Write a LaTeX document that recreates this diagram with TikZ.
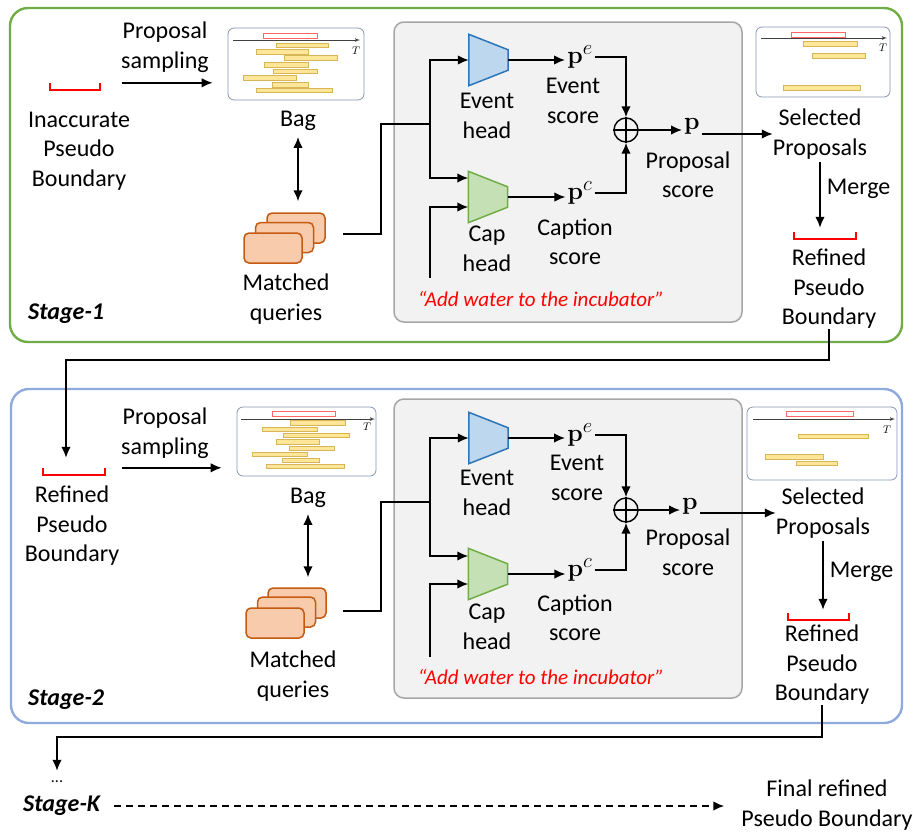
\documentclass[tikz,border=0pt]{standalone}
\usepackage[no-math]{fontspec}
\setmainfont{Carlito}
\usetikzlibrary{shapes,arrows,arrows.meta,positioning,calc}

\definecolor{stgreen}{HTML}{70AD47}
\definecolor{stblue}{HTML}{8FAADC}
\definecolor{headblue}{HTML}{BDD7EE}
\definecolor{headline}{HTML}{2E75B6}
\definecolor{headgreen}{HTML}{C5E0B4}
\definecolor{qfill}{HTML}{F8CBAD}
\definecolor{qline}{HTML}{C55A11}
\definecolor{barfill}{HTML}{FFE699}
\definecolor{barline}{HTML}{D6B656}
\definecolor{bagline}{HTML}{8497B0}
\definecolor{panelfill}{HTML}{F2F2F2}
\definecolor{panelline}{HTML}{A6A6A6}

% trapezoid of a head, drawn on its (invisible) node
\newcommand{\headshape}[2]{%
    \draw[#2, line width=1.5pt] (#1.north west) -- ([yshift=-15.5pt]#1.north east)
        -- ([yshift=15.5pt]#1.south east) -- (#1.south west) -- cycle;}

\begin{document}
\fontsize{24}{29.5}\selectfont
\begin{tikzpicture}[
    x=1pt, y=-1pt,
    txt/.style={align=center, inner sep=0pt},
    stage/.style={draw, line width=2.4pt, rounded corners=18pt},
    stagelbl/.style={font=\bfseries\itshape, anchor=west, inner sep=0pt},
    panel/.style={draw=panelline, fill=panelfill, line width=1.5pt, rounded corners=10pt, inner sep=0pt},
    bagbox/.style={draw=bagline, fill=white, line width=0.8pt, rounded corners=6pt, inner sep=0pt},
    bar/.style={draw=barline, fill=barfill, line width=0.8pt},
    gt/.style={draw=red!60, line width=0.8pt},
    axis/.style={draw=black!75, -latex', line width=0.8pt},
    tsym/.style={font=\fontsize{11}{11}\selectfont, inner sep=0pt},
    query/.style={draw=qline, fill=qfill, line width=1.5pt, rounded corners=5pt,
        minimum width=58pt, minimum height=30pt, inner sep=0pt},
    head/.style={minimum width=39pt, minimum height=51pt, inner sep=0pt},
    brack/.style={minimum height=7pt, inner sep=0pt},
    sum/.style={circle, draw, line width=1.4pt, minimum size=24pt, inner sep=0pt},
    score/.style={inner sep=2pt, font=\fontsize{30}{30}\selectfont},
    quote/.style={text=red, font=\itshape\fontsize{21}{21}\selectfont, inner sep=0pt},
    line/.style={draw, -{Latex[length=11pt,width=9.5pt]}, line width=1.6pt},
    plain/.style={draw, line width=1.6pt},
    dbl/.style={draw, {Latex[length=11pt,width=9.5pt]}-{Latex[length=11pt,width=9.5pt]}, line width=1.6pt}
]
    \useasboundingbox (0,0) rectangle (913,836);

    % Stage frames
    \draw[stage, draw=stgreen] (10,8) rectangle (902,342);
    \draw[stage, draw=stblue] (11,389) rectangle (902,723);

    % ---------------- Stage-1 ----------------
    \node[stagelbl] (st1) at (28,314) {Stage-1};

    % Inaccurate boundary and sampling
    \node[brack, minimum width=50pt] (bnd1) at (75,86.5) {};
    \draw[red, line width=1.5pt] (bnd1.north west) |- (bnd1.south east) -- (bnd1.north east);
    \node[txt] (inlbl1) at (79,151) {Inaccurate\\Pseudo\\Boundary};
    \node[txt] (samp1) at (165,47) {Proposal\\sampling};

    % Bag
    \node[bagbox, minimum width=136pt, minimum height=72pt] (bag1) at (296,64) {};
    \draw[gt] (263,33) rectangle (317,38);
    \draw[axis] (233,40) -- (360,40);
    \node[tsym] (tax1) at (356,51) {$T$};
    \draw[bar] (276,43) rectangle (328,47) (256,49) rectangle (308,54) (284,55) rectangle (337,60)
        (264,62) rectangle (308,67) (273,69) rectangle (317,73) (243,75) rectangle (296,80)
        (272,82) rectangle (308,87) (256,88) rectangle (332,92);
    \node[txt] (baglbl1) at (298,121) {Bag};

    % Matched queries
    \node[query] (mqb1) at (296,228) {};
    \node[query] (mqm1) at (284.5,237.5) {};
    \node[query] (mq1) at (273,248) {};
    \node[txt] (mqlbl1) at (286,299) {Matched\\queries};

    % Heads
    \node[panel, minimum width=348pt, minimum height=300pt] (core1) at (568,172) {};
    \node[head] (evh1) at (488.5,60) {};
    \headshape{evh1}{draw=headline, fill=headblue}
    \node[head] (cph1) at (488,197) {};
    \headshape{cph1}{draw=stgreen, fill=headgreen}
    \node[txt] (evlbl1) at (487,116) {Event\\head};
    \node[txt] (cplbl1) at (487,249) {Cap\\head};
    \node[score] (pe1) at (580,57) {$\mathbf{p}^e$};
    \node[txt] (pelbl1) at (573,101) {Event\\score};
    \node[score] (pc1) at (580,193) {$\mathbf{p}^c$};
    \node[txt] (pclbl1) at (575,242) {Caption\\score};
    \node[sum] (add1) at (626,130) {};
    \draw[line width=1.4pt] (add1.north) -- (add1.south) (add1.west) -- (add1.east);
    \node[score] (p1) at (692,126) {$\mathbf{p}$};
    \node[txt] (plbl1) at (688,175) {Proposal\\score};
    \node[quote] (qry1) at (541,299) {“Add water to the incubator”};
    \coordinate (q1) at (343,234);
    \coordinate (split1) at (430,124);
    \coordinate (tq1) at (430,278);

    % Selected proposals
    \node[bagbox, minimum width=134pt, minimum height=70pt] (sel1) at (823,62) {};
    \draw[gt] (791,32) rectangle (845,37);
    \draw[axis] (761,38) -- (887,38);
    \node[tsym] (tsel1) at (883,48) {$T$};
    \draw[bar] (803,41) rectangle (857,46) (812,53) rectangle (865,58) (783,85) rectangle (860,90);
    \node[txt] (sellbl1) at (820,134) {Selected\\Proposals};
    \node[brack, minimum width=62pt] (rbnd1) at (825,235.5) {};
    \draw[red, line width=1.5pt] (rbnd1.north west) |- (rbnd1.south east) -- (rbnd1.north east);
    \node[txt] (rlbl1) at (829,289) {Refined\\Pseudo\\Boundary};

    % Edges
    \path[line] ([xshift=22pt]bnd1.north east) -- ([xshift=-15pt]bag1.west |- bnd1.north east);
    \path[dbl] ([yshift=-6pt]baglbl1.south) -- ([yshift=11pt]baglbl1.south |- mqb1.north);
    \path[plain] (q1) -- ++(38,0) |- (split1);
    \path[line] (split1) |- (evh1.west);
    \path[line] (split1) |- ([yshift=19pt]cph1.west);
    \path[line] (tq1) |- ([yshift=-10pt]cph1.west);
    \path[line] (evh1.east) -- (evh1.east -| pe1.west);
    \path[line] (cph1.east) -- (cph1.east -| pc1.west);
    \path[line] (pe1.east) -| (add1.north);
    \path[line] (pc1.east) -| (add1.south);
    \path[line] (add1.east) -- (add1.east -| p1.west);
    \path[line] (sellbl1.west -| p1.east) -- (sellbl1.west);
    \path[line] ([yshift=-3pt]sellbl1.south) -- node[pos=0.4, right=6pt, inner sep=0pt] {Merge}
        ([yshift=4pt]sellbl1.south |- rbnd1.north);

    % ---------------- Stage-2 ----------------
    \node[stagelbl] (st2) at (28,700) {Stage-2};

    % Refined boundary and sampling
    \node[brack, minimum width=62pt] (bnd2) at (74,471.5) {};
    \draw[red, line width=1.5pt] (bnd2.north west) |- (bnd2.south east) -- (bnd2.north east);
    \node[txt] (inlbl2) at (72,526) {Refined\\Pseudo\\Boundary};
    \node[txt] (samp2) at (165,433) {Proposal\\sampling};

    % Bag
    \node[bagbox, minimum width=139pt, minimum height=69pt] (bag2) at (306.5,441.5) {};
    \draw[gt] (272,411) rectangle (335,416);
    \draw[axis] (241,419) -- (375,419);
    \node[tsym] (tax2) at (367,427) {$T$};
    \draw[bar] (290,420) rectangle (345,425) (262,427) rectangle (317,431) (283,433) rectangle (349,437)
        (276,439) rectangle (319,444) (289,446) rectangle (334,450) (252,452) rectangle (307,456)
        (282,458) rectangle (319,462) (266,464) rectangle (344,468);
    \node[txt] (baglbl2) at (308,498) {Bag};

    % Matched queries
    \node[query] (mqb2) at (297,603) {};
    \node[query] (mqm2) at (286.5,612) {};
    \node[query] (mq2) at (275,623) {};
    \node[txt] (mqlbl2) at (293,676) {Matched\\queries};

    % Heads
    \node[panel, minimum width=348pt, minimum height=299pt] (core2) at (568,548.5) {};
    \node[head] (evh2) at (488.5,438) {};
    \headshape{evh2}{draw=headline, fill=headblue}
    \node[head] (cph2) at (488,574) {};
    \headshape{cph2}{draw=stgreen, fill=headgreen}
    \node[txt] (evlbl2) at (487,493) {Event\\head};
    \node[txt] (cplbl2) at (487,627) {Cap\\head};
    \node[score] (pe2) at (580,435) {$\mathbf{p}^e$};
    \node[txt] (pelbl2) at (577,478) {Event\\score};
    \node[score] (pc2) at (580,570) {$\mathbf{p}^c$};
    \node[txt] (pclbl2) at (575,618) {Caption\\score};
    \node[sum] (add2) at (626,510) {};
    \draw[line width=1.4pt] (add2.north) -- (add2.south) (add2.west) -- (add2.east);
    \node[score] (p2) at (690,506) {$\mathbf{p}$};
    \node[txt] (plbl2) at (688,552) {Proposal\\score};
    \node[quote] (qry2) at (541,677) {“Add water to the incubator”};
    \coordinate (q2) at (343,611);
    \coordinate (split2) at (430,502);
    \coordinate (tq2) at (430,657);

    % Selected proposals
    \node[bagbox, minimum width=150pt, minimum height=73pt] (sel2) at (822,443.5) {};
    \draw[gt] (786,411) rectangle (853,416);
    \draw[axis] (753,419) -- (895,419);
    \node[tsym] (tsel2) at (887,430) {$T$};
    \draw[bar] (798,434) rectangle (868,438) (765,454) rectangle (823,459) (796,461) rectangle (837,465);
    \node[txt] (sellbl2) at (823,513) {Selected\\Proposals};
    \node[brack, minimum width=61pt] (rbnd2) at (818.5,616.5) {};
    \draw[red, line width=1.5pt] (rbnd2.north west) |- (rbnd2.south east) -- (rbnd2.north east);
    \node[txt] (rlbl2) at (822,665) {Refined\\Pseudo\\Boundary};

    % Edges
    \path[line] ([xshift=17pt]bnd2.north east) -- ([xshift=-15pt]bag2.west |- bnd2.north east);
    \path[dbl] ([yshift=-6pt]baglbl2.south) -- ([yshift=10pt]baglbl2.south |- mqb2.north);
    \path[plain] (q2) -- ++(38,0) |- (split2);
    \path[line] (split2) |- (evh2.west);
    \path[line] (split2) |- ([yshift=18pt]cph2.west);
    \path[line] (tq2) |- ([yshift=-10pt]cph2.west);
    \path[line] (evh2.east) -- (evh2.east -| pe2.west);
    \path[line] (cph2.east) -- (cph2.east -| pc2.west);
    \path[line] (pe2.east) -| (add2.north);
    \path[line] (pc2.east) -| (add2.south);
    \path[line] (add2.east) -- (add2.east -| p2.west);
    \path[line] (sellbl2.west -| p2.east) -- (sellbl2.west);
    \path[line] ([yshift=-3pt]sellbl2.south) -- node[pos=0.45, right=6pt, inner sep=0pt] {Merge}
        ([yshift=3pt]sellbl2.south |- rbnd2.north);

    % ---------------- Stage-K ----------------
    \node[inner sep=0pt, font=\fontsize{16}{16}\selectfont] (dots) at (57,782) {...};
    \node[stagelbl] (stK) at (23,806) {Stage-K};
    \node[txt] (final) at (827,805) {Final refined\\Pseudo Boundary};

    % Stage links
    \path[line] (rlbl1.south) -- ++(0,31) -| ([shift={(-8,-10)}]bnd2.north);
    \path[line] (rlbl2.south) -- ++(0,32) -| ([yshift=10pt]dots.north);
    \path[line, dash pattern=on 7pt off 5pt] ([xshift=14pt]stK.east) -- ([xshift=-17pt]final.west |- stK.east);

\end{tikzpicture}
\end{document}
